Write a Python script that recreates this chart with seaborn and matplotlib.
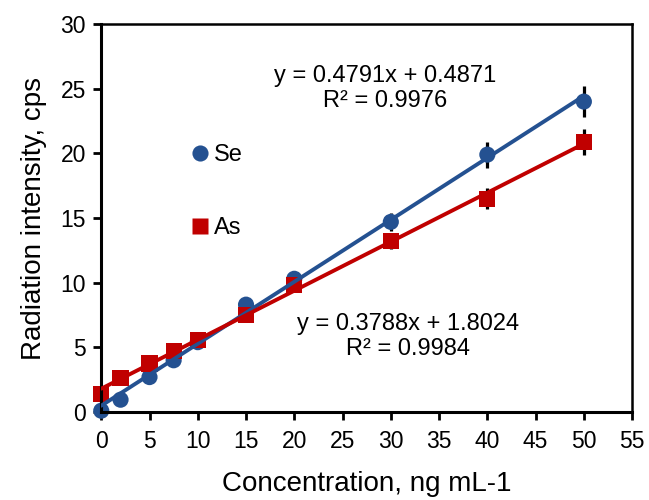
import numpy as np
import pandas as pd
import matplotlib
matplotlib.use("Agg")
import matplotlib.pyplot as plt
import seaborn as sns

# values
conc = [0, 2, 5, 7.5, 10, 15, 20, 30, 40, 50]
se_vals = [0.1, 0.95, 2.7, 4.0, 5.4, 8.3, 10.3, 14.7, 19.9, 24.0]
as_vals = [1.4, 2.6, 3.75, 4.7, 5.6, 7.5, 9.8, 13.2, 16.5, 20.9]
se_err = [0.1, 0.1, 0.15, 0.15, 0.2, 0.3, 0.3, 0.7, 1.0, 1.2]
as_err = [0.1, 0.1, 0.15, 0.15, 0.2, 0.3, 0.3, 0.6, 0.8, 1.0]

# trendline coefficients shown on the chart
se_fit = (0.4791, 0.4871)
as_fit = (0.3788, 1.8024)
se_r2 = 0.9976
as_r2 = 0.9984

SE_COLOR = "#245191"
AS_COLOR = "#C00000"

sns.set_style("ticks")
plt.rcParams["font.family"] = ["Liberation Sans", "DejaVu Sans"]
plt.rcParams["text.color"] = "black"
plt.rcParams["axes.labelcolor"] = "black"

df = pd.DataFrame({"conc": conc + conc,
                   "value": se_vals + as_vals,
                   "element": ["Se"] * len(conc) + ["As"] * len(conc)})

fig = plt.figure(figsize=(6.49, 5.0), dpi=100)
ax = fig.add_axes([0.156, 0.176, 0.818, 0.776])

# error bars sit under the markers
ax.errorbar(conc, se_vals, yerr=se_err, fmt="none", ecolor="black",
            elinewidth=2.3, capsize=0, zorder=1)
ax.errorbar(conc, as_vals, yerr=as_err, fmt="none", ecolor="black",
            elinewidth=2.3, capsize=0, zorder=1)

sns.scatterplot(data=df, x="conc", y="value", hue="element", style="element",
                palette={"Se": SE_COLOR, "As": AS_COLOR},
                markers={"Se": "o", "As": "s"}, s=135, edgecolor="none",
                ax=ax, zorder=2, clip_on=False)

# linear trendlines from the equations
xs = np.array([0, 50])
fit_df = pd.DataFrame({"conc": np.concatenate([xs, xs]),
                       "value": np.concatenate([se_fit[0] * xs + se_fit[1],
                                                as_fit[0] * xs + as_fit[1]]),
                       "element": ["Se", "Se", "As", "As"]})
sns.lineplot(data=fit_df, x="conc", y="value", hue="element",
             palette={"Se": SE_COLOR, "As": AS_COLOR}, linewidth=2.8,
             legend=False, ax=ax, zorder=3)

ax.set_xlim(0, 55)
ax.set_ylim(0, 30)
ax.set_xticks(np.arange(0, 56, 5))
ax.set_yticks(np.arange(0, 31, 5))
ax.tick_params(axis="both", labelsize=16.5, width=2, length=6, direction="out",
               colors="black")
ax.tick_params(axis="x", pad=7)
ax.tick_params(axis="y", pad=5)
for side in ["left", "bottom"]:
    ax.spines[side].set_linewidth(2.2)
    ax.spines[side].set_color("black")
for side in ["top", "right"]:
    ax.spines[side].set_linewidth(1.8)
    ax.spines[side].set_color("black")

ax.set_xlabel("Concentration, ng mL-1", fontsize=20, labelpad=13)
ax.set_ylabel("Radiation intensity, cps", fontsize=20, labelpad=10)

ax.text(29.4, 25.0, f"y = {se_fit[0]}x + {se_fit[1]}\nR² = {se_r2}",
        ha="center", va="center", fontsize=17, linespacing=1.15)
ax.text(31.8, 5.85, f"y = {as_fit[0]}x + {as_fit[1]}\nR² = {as_r2}",
        ha="center", va="center", fontsize=17, linespacing=1.15)

handles, labels = ax.get_legend_handles_labels()
ax.legend(handles, labels, loc="upper left", bbox_to_anchor=(0.124, 0.745),
          frameon=False, fontsize=17, labelspacing=2.15, handletextpad=0.1,
          handlelength=1.0, markerscale=1.0)

fig.savefig("out.png", dpi=100)
